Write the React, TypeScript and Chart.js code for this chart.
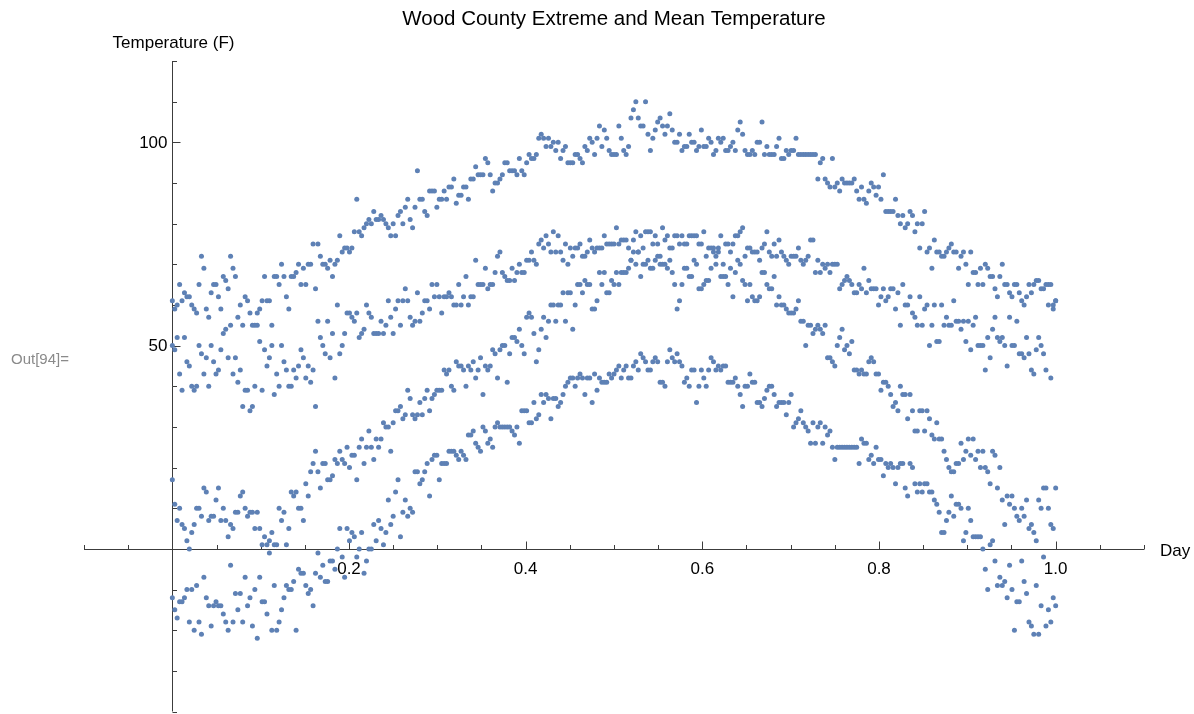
import React, { useEffect, useRef } from "react";
import { Chart, registerables } from "chart.js";

Chart.register(...registerables);

// ---- Texts ----
const chartTitle = "Wood County Extreme and Mean Temperature";
const yAxisTitle = "Temperature (F)";
const xAxisTitle = "Day";
const outLabel = "Out[94]=";

// ---- Axis ticks ----
const xRange = [-0.1, 1.1];
const yRange = [-40, 120];
const xTicks = [-0.1, -0.05, 0.05, 0.1, 0.15, 0.2, 0.25, 0.3, 0.35, 0.4, 0.45, 0.5, 0.55, 0.6, 0.65, 0.7, 0.75, 0.8, 0.85, 0.9, 0.95, 1.0, 1.05, 1.1];
const xMajorTicks = [0.2, 0.4, 0.6, 0.8, 1.0];
const xTickLabels = ["0.2", "0.4", "0.6", "0.8", "1.0"];
const yTicks = [-40, -30, -20, -10, 10, 20, 30, 40, 50, 60, 70, 80, 90, 100, 110, 120];
const yMajorTicks = [50, 100];
const yTickLabels = ["50", "100"];

// ---- Daily series (365 days, x = day / 364) ----
const recordHigh = [
  61, 59, 60, 65, 61, 63, 62, 62, 60, 59, 58, 65, 72, 69, 59, 57, 63, 65, 65, 62, 59, 67, 66, 64, 72, 69, 67, 57, 60, 55,
  62, 61, 58, 55, 55, 58, 59, 61, 67, 61, 61, 55, 67, 67, 65, 70, 67, 62, 59, 67, 67, 68, 70, 65, 69, 65, 70, 70, 75, 64, 75,
  72, 70, 70, 69, 71, 67, 70, 71, 77, 73, 74, 74, 73, 74, 78, 86, 78, 77, 79, 80, 81, 80, 83, 81, 81, 82, 81, 80, 79, 77,
  80, 77, 82, 83, 80, 84, 86, 81, 79, 84, 93, 86, 86, 83, 82, 88, 88, 88, 84, 86, 86, 88, 86, 89, 89, 91, 85, 87, 87, 89, 89, 86,
  91, 91, 94, 92, 92, 92, 96, 95, 92, 88, 90, 90, 91, 92, 95, 95, 93, 93, 93, 92, 96, 93, 92, 95, 97, 96, 96, 97, 101, 102,
  101, 99, 101, 99, 100, 98, 100, 96, 98, 99, 95, 95, 95, 97, 97, 96, 95, 99, 98, 101, 100, 97, 101, 104, 99, 103, 101, 98, 97, 97, 97, 104,
  101, 98, 97, 99, 106, 108, 110, 106, 104, 104, 110, 102, 98, 101, 103, 105, 106, 104, 102, 104, 107, 103, 100, 100, 102, 98, 99, 99, 102, 100,
  100, 98, 99, 103, 99, 99, 101, 100, 97, 98, 101, 100, 101, 98, 98, 99, 100, 98, 103, 105, 102, 98, 97, 97, 98, 97, 100, 100, 105, 97, 99, 97,
  97, 97, 99, 101, 96, 96, 98, 97, 98, 98, 101, 97, 97, 97, 97, 97, 97, 97, 97, 91, 95, 96, 91, 90, 89, 96, 89, 90, 88, 91,
  90, 90, 90, 90, 91, 88, 86, 89, 86, 85, 88, 90, 89, 87, 89, 86, 92, 83, 83, 83, 83, 86, 82, 80, 82, 79, 80, 83, 82, 78, 80, 74,
  80, 83, 73, 74, 69, 76, 73, 73, 72, 72, 73, 74, 75, 73, 73, 69, 72, 73, 70, 65, 73, 68, 68, 65, 69, 65, 70, 69, 67, 67,
  64, 62, 67, 70, 65, 65, 63, 62, 65, 65, 63, 61, 60, 62, 65, 63, 65, 66, 66, 64, 64, 65, 65, 65, 60, 61,
];

const meanHigh = [
  50, 49, 52, 43, 39, 52, 46, 45, 40, 39, 40, 50, 48, 43, 47, 40, 50, 46, 43, 44, 49, 53, 54, 47, 55, 43, 47, 41, 44, 35,
  39, 39, 34, 35, 40, 55, 51, 39, 49, 45, 47, 50, 38, 43, 40, 50, 46, 44, 40, 40, 44, 42, 45, 49, 47, 42, 45, 41, 44, 35, 56,
  52, 50, 48, 56, 47, 53, 42, 60, 48, 50, 53, 58, 58, 57, 56, 58, 52, 53, 54, 60, 58, 57, 53, 53, 53, 56, 53, 55, 61, 57,
  53, 59, 61, 55, 61, 64, 61, 57, 55, 56, 63, 56, 58, 61, 61, 59, 65, 62, 65, 62, 58, 62, 62, 63, 62, 60, 60, 65, 60, 62, 67, 60,
  62, 62, 71, 65, 65, 65, 69, 64, 65, 65, 68, 72, 73, 68, 67, 66, 66, 69, 66, 68, 70, 68, 68, 71, 71, 73, 71, 70, 75, 76,
  74, 77, 75, 73, 78, 73, 77, 73, 71, 75, 70, 74, 72, 74, 74, 75, 72, 72, 73, 76, 74, 73, 74, 74, 74, 77, 75, 75, 75, 75, 79, 75,
  76, 76, 76, 74, 71, 76, 78, 73, 77, 74, 78, 78, 78, 75, 77, 75, 72, 79, 76, 77, 74, 74, 77, 77, 75, 77, 75, 75, 77, 77,
  77, 77, 75, 75, 78, 72, 74, 74, 74, 72, 74, 77, 70, 75, 75, 73, 75, 77, 77, 78, 79, 72, 74, 74, 73, 73, 73, 71, 74, 75, 78, 73,
  72, 75, 72, 76, 73, 72, 71, 70, 72, 72, 72, 74, 71, 70, 71, 72, 76, 76, 68, 71, 68, 70, 69, 70, 68, 70, 70, 70, 64, 65,
  66, 67, 66, 65, 63, 63, 65, 64, 69, 63, 66, 64, 64, 64, 60, 62, 64, 61, 62, 64, 64, 59, 63, 55, 65, 60, 60, 62, 58, 57, 55, 62,
  55, 59, 60, 50, 55, 60, 51, 51, 60, 55, 57, 55, 55, 61, 56, 56, 54, 56, 51, 56, 49, 55, 57, 50, 50, 50, 44, 52, 47, 54,
  57, 52, 51, 52, 50, 45, 57, 50, 50, 56, 48, 48, 47, 52, 48, 44, 43, 49, 52, 50, 48, 44, 60, 42, 59, 61,
];

const meanLow = [
  17, 11, 7, 10, 6, 5, 2, 0, 4, 6, 10, 10, 8, 15, 14, 7, 8, 8, 12, 15, 7, 10, 7, 3, 6, 5, 9, 9, 13, 14,
  10, 8, 9, 9, 5, 9, 5, 1, 3, 1, 2, 4, 1, 1, 10, 7, 9, 1, 5, 14, 13, 14, 10, 10, 7, 16, 13, 19, 21, 24, 19,
  15, 21, 21, 17, 17, 18, 22, 21, 24, 22, 21, 25, 20, 23, 23, 17, 25, 27, 21, 25, 29, 25, 22, 27, 25, 27, 31, 30, 30, 24,
  31, 34, 34, 35, 32, 33, 39, 37, 33, 32, 33, 36, 33, 37, 39, 34, 37, 38, 39, 39, 39, 44, 43, 44, 40, 39, 46, 45, 45, 44, 40, 45,
  44, 46, 42, 44, 47, 38, 45, 44, 45, 49, 48, 42, 49, 50, 50, 41, 48, 52, 52, 51, 54, 50, 48, 57, 58, 57, 53, 46, 49, 54,
  57, 52, 56, 60, 60, 56, 60, 60, 63, 56, 63, 63, 54, 60, 65, 65, 63, 66, 65, 65, 59, 59, 61, 68, 65, 68, 63, 63, 66, 65, 68, 65,
  68, 68, 68, 69, 71, 73, 70, 73, 67, 70, 70, 71, 69, 69, 71, 72, 70, 70, 70, 69, 71, 68, 65, 59, 61, 65, 69, 69, 67, 67,
  71, 70, 64, 64, 65, 66, 66, 69, 73, 70, 73, 67, 67, 67, 65, 69, 62, 68, 71, 70, 66, 65, 61, 65, 62, 61, 61, 62, 68, 68, 65, 64,
  64, 67, 60, 62, 60, 60, 59, 58, 58, 58, 59, 61, 56, 56, 50, 55, 55, 53, 54, 55, 54, 53, 55, 47, 47, 46, 45, 50, 52, 54,
  49, 50, 48, 51, 44, 44, 43, 44, 43, 43, 46, 47, 46, 43, 43, 39, 41, 41, 40, 38, 35, 36, 34, 40, 38, 38, 32, 38, 34, 29, 29, 34,
  34, 29, 34, 32, 28, 27, 31, 27, 27, 24, 22, 20, 19, 19, 21, 21, 26, 22, 24, 27, 23, 27, 22, 24, 20, 24, 20, 19, 16, 24,
  23, 15, 20, 12, 6, 13, 11, 13, 10, 8, 7, 10, 8, 12, 5, 6, 4, 2, 12, 10, 15, 15, 10, 6, 5, 15,
];

const recordLow = [
  -12, -15, -17, -13, -13, -12, -10, -18, -10, -20, -9, -18, -21, -7, -12, -14, -19, -14, -13, -14, -14, -16, -18, -20, -4, -18, -11, -15, -11, -18,
  -7, -14, -12, -19, -10, -22, -7, -13, -13, -16, -1, -20, -9, -20, -18, -15, -12, -9, -10, -10, -8, -20, -5, -6, -6, -9, -11, -10, -14, -6, -1,
  -7, -4, -8, -8, -3, -3, -5, 0, 5, -2, -7, 5, 2, 4, 3, -2, 0, 4, -6, -3, 0, 0, 6, 2, 7, 5, 1, 4, 12, 6,
  8, 14, 17, 3, 9, 12, 8, 10, 9, 19, 19, 16, 17, 19, 21, 13, 22, 23, 23, 17, 21, 21, 21, 24, 24, 24, 23, 22, 24, 23, 22, 28,
  28, 29, 26, 25, 24, 30, 29, 26, 27, 25, 30, 31, 30, 30, 30, 30, 30, 29, 28, 30, 26, 34, 34, 34, 31, 31, 36, 32, 33, 38,
  36, 38, 37, 32, 37, 37, 35, 36, 38, 40, 41, 42, 42, 40, 42, 43, 42, 38, 42, 42, 36, 43, 39, 42, 41, 41, 41, 43, 42, 43, 44, 45,
  42, 44, 45, 42, 42, 45, 46, 44, 48, 47, 46, 44, 44, 46, 47, 46, 41, 41, 40, 46, 49, 47, 46, 48, 46, 45, 41, 42, 40, 44,
  44, 36, 40, 44, 42, 40, 44, 47, 46, 44, 45, 44, 45, 45, 41, 41, 41, 42, 40, 38, 35, 40, 40, 43, 41, 41, 36, 36, 35, 37, 39, 40,
  40, 38, 35, 36, 36, 36, 33, 36, 38, 30, 31, 32, 34, 31, 30, 29, 26, 31, 26, 30, 31, 26, 30, 28, 29, 25, 22, 25, 25, 25,
  25, 25, 25, 25, 25, 25, 21, 27, 26, 26, 22, 23, 21, 25, 22, 22, 18, 21, 20, 21, 20, 16, 20, 21, 21, 15, 13, 21, 20, 16, 14, 16,
  14, 16, 16, 14, 14, 12, 11, 9, 4, 4, 7, 9, 13, 8, 11, 11, 10, 2, 4, 10, 7, 3, 3, 3, 3, 0, -5, -10, 1, 2,
  -3, -9, -7, -9, -8, -12, -4, -10, -20, -13, -13, -3, -8, -11, -18, -19, -21, -9, -21, -14, -2, -19, -15, -18, -12, -14,
];

const seriesList = [
  { label: "Record high", values: recordHigh },
  { label: "Mean high", values: meanHigh },
  { label: "Mean low", values: meanLow },
  { label: "Record low", values: recordLow },
];

const pointColor = "rgb(94,129,181)";
const axisColor = "#3c3c3c";
const FONT = "'Liberation Sans', Arial, Helvetica, sans-serif";

const mmaAxes = {
  id: "mmaAxes",
  beforeDatasetsDraw(chart: any) {
    const { ctx, scales } = chart;
    const xs = scales.x;
    const ys = scales.y;
    const x0 = Math.round(xs.getPixelForValue(0)) + 0.5;
    const y0 = Math.round(ys.getPixelForValue(0)) + 0.5;
    ctx.save();
    ctx.strokeStyle = axisColor;
    ctx.lineWidth = 1;
    ctx.beginPath();
    ctx.moveTo(xs.getPixelForValue(xRange[0]), y0);
    ctx.lineTo(xs.getPixelForValue(xRange[1]), y0);
    ctx.moveTo(x0, ys.getPixelForValue(yRange[1]));
    ctx.lineTo(x0, ys.getPixelForValue(yRange[0]));
    ctx.stroke();

    // x ticks (pointing up)
    ctx.beginPath();
    xTicks.forEach((t) => {
      const px = Math.round(xs.getPixelForValue(t)) + 0.5;
      const major = xMajorTicks.some((m) => Math.abs(m - t) < 1e-9);
      const len = major ? 8 : 4.5;
      ctx.moveTo(px, y0);
      ctx.lineTo(px, y0 - len);
    });
    // y ticks (pointing right)
    yTicks.forEach((t) => {
      const py = Math.round(ys.getPixelForValue(t)) + 0.5;
      const major = yMajorTicks.includes(t);
      const len = major ? 8 : 4.5;
      ctx.moveTo(x0, py);
      ctx.lineTo(x0 + len, py);
    });
    ctx.stroke();

    // tick labels
    ctx.fillStyle = "#000";
    ctx.font = `17px ${FONT}`;
    ctx.textAlign = "center";
    ctx.textBaseline = "middle";
    xMajorTicks.forEach((t, i) => {
      ctx.fillText(xTickLabels[i], xs.getPixelForValue(t), y0 + 20);
    });
    ctx.textAlign = "right";
    yMajorTicks.forEach((t, i) => {
      ctx.fillText(yTickLabels[i], x0 - 5, ys.getPixelForValue(t) + 1);
    });

    // axis titles
    ctx.textAlign = "left";
    ctx.fillText(xAxisTitle, xs.getPixelForValue(xRange[1]) + 16, y0 + 2);
    ctx.textAlign = "center";
    ctx.fillText(yAxisTitle, x0 + 1, 43);

    // chart title
    ctx.font = `20.5px ${FONT}`;
    ctx.fillText(chartTitle, (xs.left + xs.right) / 2, 19);

    // Mathematica output label
    ctx.font = `15px ${FONT}`;
    ctx.fillStyle = "#8a8a8a";
    ctx.textAlign = "left";
    ctx.fillText(outLabel, 11, 360);
    ctx.restore();
  },
};

export default function App() {
  const canvasRef = useRef<HTMLCanvasElement | null>(null);

  useEffect(() => {
    const canvas = canvasRef.current;
    if (!canvas) return;
    const datasets = seriesList.map((s) => ({
      label: s.label,
      data: s.values.map((v, i) => ({ x: i / (s.values.length - 1), y: v })),
      pointRadius: 2.5,
      pointHoverRadius: 2.5,
      pointBackgroundColor: pointColor,
      pointBorderWidth: 0,
      borderColor: pointColor,
      showLine: false,
    }));
    const chart = new Chart(canvas, {
      type: "scatter",
      data: { datasets },
      options: {
        animation: false,
        responsive: true,
        maintainAspectRatio: false,
        layout: { padding: { left: 84, right: 50, top: 61, bottom: 0 } },
        plugins: {
          legend: { display: false },
          title: { display: false },
          tooltip: { enabled: false },
        },
        scales: {
          x: { type: "linear", min: xRange[0], max: xRange[1], display: false },
          y: { type: "linear", min: yRange[0], max: yRange[1], display: false },
        },
      },
      plugins: [mmaAxes],
    });
    return () => chart.destroy();
  }, []);

  return (
    <div style={{ position: "absolute", left: 0, top: 0, width: 1194, height: 714, background: "#fff" }}>
      <canvas ref={canvasRef} />
    </div>
  );
}
